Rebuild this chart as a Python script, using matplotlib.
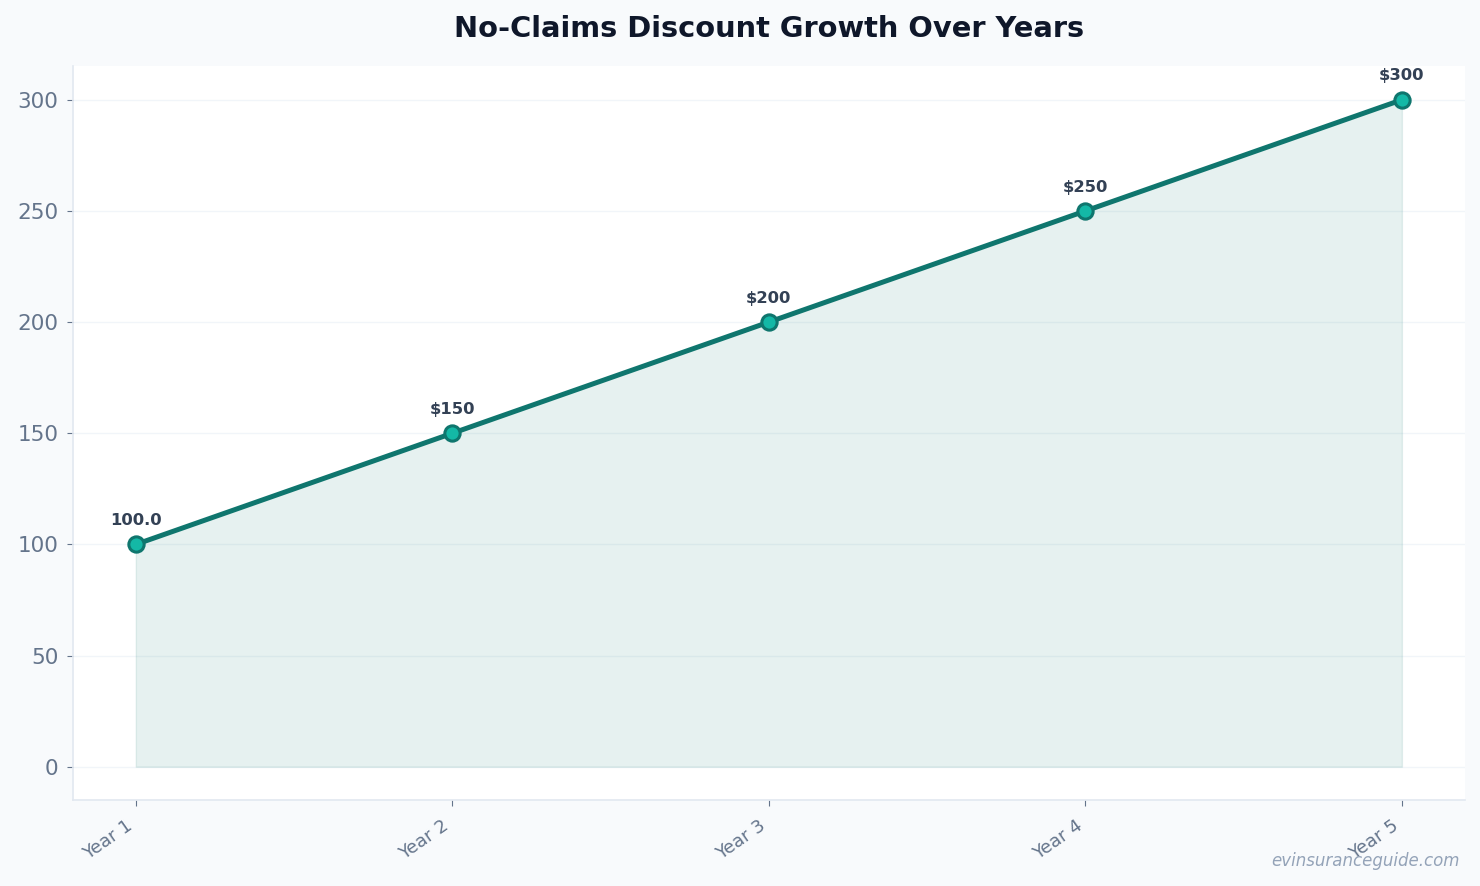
import matplotlib.pyplot as plt
import numpy as np

years = ['Year 1', 'Year 2', 'Year 3', 'Year 4', 'Year 5']
discount = [100, 150, 200, 250, 300]
point_labels = ['100.0', '$150', '$200', '$250', '$300']

fig, ax = plt.subplots(figsize=(14.8, 8.86), dpi=100)
fig.patch.set_facecolor('#f8fafc')
ax.set_facecolor('white')

x = np.arange(len(years))
ax.fill_between(x, discount, color='#0f766e', alpha=0.1, zorder=1)
ax.plot(x, discount, color='#0f766e', linewidth=3.6, marker='o', markersize=11,
        markerfacecolor='#14b8a6', markeredgecolor='#0f766e', markeredgewidth=2.2, zorder=3)

for xi, yi, lab in zip(x, discount, point_labels):
    ax.annotate(lab, (xi, yi), textcoords='offset points', xytext=(0, 14),
                ha='center', fontsize=11.8, fontweight='bold', color='#334155')

ax.set_title('No-Claims Discount Growth Over Years', fontsize=20.8, fontweight='bold',
             color='#0f172a', pad=21.5)
ax.set_xticks(x)
ax.set_xticklabels(years, rotation=35, ha='right', fontsize=13, color='#64748b')
ax.tick_params(axis='y', labelsize=15.5, colors='#64748b', length=4, pad=6)
ax.tick_params(axis='x', colors='#64748b', length=4, pad=8)
ax.set_yticks([0, 50, 100, 150, 200, 250, 300])
ax.grid(axis='y', color='#f1f5f9', linewidth=1)
ax.set_axisbelow(True)

for s in ['top', 'right']:
    ax.spines[s].set_visible(False)
for s in ['left', 'bottom']:
    ax.spines[s].set_color('#e2e8f0')
    ax.spines[s].set_linewidth(1.2)

fig.subplots_adjust(left=0.049, right=0.99, top=0.925, bottom=0.097)
fig.text(0.986, 0.018, 'evinsuranceguide.com', ha='right', va='bottom',
         fontsize=12, style='italic', color='#94a3b8')

fig.savefig('out.png', dpi=100, facecolor=fig.get_facecolor())
